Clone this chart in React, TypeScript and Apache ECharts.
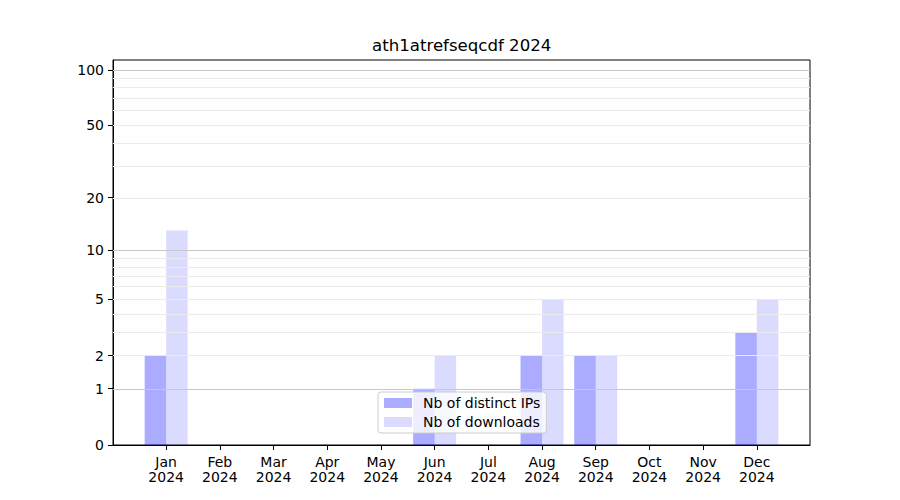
import React, { useEffect, useRef } from "react";
import * as echarts from "echarts";

const months = ["Jan", "Feb", "Mar", "Apr", "May", "Jun", "Jul", "Aug", "Sep", "Oct", "Nov", "Dec"];
const yearLabel = "2024";
const distinctIPs = [2, 0, 0, 0, 0, 1, 0, 2, 2, 0, 0, 3];
const downloads = [13, 0, 0, 0, 0, 2, 0, 5, 2, 0, 0, 5];
const yTickValues = [0, 1, 2, 5, 10, 20, 50, 100];
const majorGrid = [1, 10, 100];
const minorGrid = [2, 3, 4, 5, 6, 7, 8, 9, 20, 30, 40, 50, 60, 70, 80, 90];

const t = (v: number) => Math.log10(1 + v);
const FONT = "DejaVu Sans";

export default function App() {
  const ref = useRef<HTMLDivElement>(null);
  useEffect(() => {
    if (!ref.current) return;
    const chart = echarts.init(ref.current, null, { renderer: "svg" });
    const gridLines = [
      ...minorGrid.map((v) => ({ yAxis: t(v), lineStyle: { color: "#ebebeb", width: 1, type: "solid" } })),
      ...majorGrid.map((v) => ({ yAxis: t(v), lineStyle: { color: "#c8c8c8", width: 1, type: "solid" } })),
    ];
    chart.setOption({
      animation: false,
      backgroundColor: "#ffffff",
      textStyle: { fontFamily: FONT },
      title: {
        text: "ath1atrefseqcdf " + yearLabel,
        left: 372,
        top: 37,
        padding: 0,
        textStyle: { fontFamily: FONT, fontSize: 16.6, fontWeight: "normal", color: "#000" },
      },
      grid: {
        left: 113,
        top: 60,
        width: 697,
        height: 385,
        show: true,
        borderColor: "#000",
        borderWidth: 1,
        backgroundColor: "transparent",
      },
      legend: {
        left: 378,
        top: 392,
        orient: "vertical",
        icon: "rect",
        itemWidth: 28,
        itemHeight: 10,
        itemGap: 5,
        padding: [4, 6, 4, 6],
        backgroundColor: "rgba(255,255,255,0.8)",
        borderColor: "#cccccc",
        borderWidth: 1,
        borderRadius: 3,
        textStyle: { fontFamily: FONT, fontSize: 14, color: "#000", padding: [0, 0, 0, 6] },
        data: ["Nb of distinct IPs", "Nb of downloads"],
      },
      xAxis: {
        type: "value",
        min: -0.99,
        max: 11.99,
        splitLine: { show: false },
        axisLine: { show: true, onZero: false, lineStyle: { color: "#000" } },
        axisTick: {
          show: true,
          length: 5,
          lineStyle: { color: "#000" },
          customValues: months.map((_, i) => i),
        },
        axisLabel: {
          customValues: months.map((_, i) => i),
          formatter: (v: number) => months[Math.round(v)] + "\n" + yearLabel,
          color: "#000",
          fontFamily: FONT,
          fontSize: 14,
          lineHeight: 15,
          margin: 9,
        },
      },
      yAxis: {
        type: "value",
        min: 0,
        max: t(113),
        splitLine: { show: false },
        axisLine: { show: true, onZero: false, lineStyle: { color: "#000" } },
        axisTick: {
          show: true,
          length: 5,
          lineStyle: { color: "#000" },
          customValues: yTickValues.map(t),
        },
        axisLabel: {
          customValues: yTickValues.map(t),
          formatter: (v: number) => String(Math.round(Math.pow(10, v) - 1)),
          color: "#000",
          fontFamily: FONT,
          fontSize: 14,
          margin: 9,
        },
      },
      series: [
        {
          name: "Nb of distinct IPs",
          type: "bar",
          barWidth: 21.5,
          barGap: "0%",
          itemStyle: { color: "rgba(0,0,255,0.33)" },
          data: distinctIPs.map((v, i) => [i, t(v)]),
          markLine: {
            silent: true,
            symbol: ["none", "none"],
            label: { show: false },
            data: gridLines,
          },
        },
        {
          name: "Nb of downloads",
          type: "bar",
          barWidth: 21.5,
          barGap: "0%",
          itemStyle: { color: "rgba(0,0,255,0.14)" },
          data: downloads.map((v, i) => [i, t(v)]),
        },
      ],
    });
    return () => chart.dispose();
  }, []);
  return <div ref={ref} style={{ width: 900, height: 500, position: "absolute", left: 0, top: 0 }} />;
}
